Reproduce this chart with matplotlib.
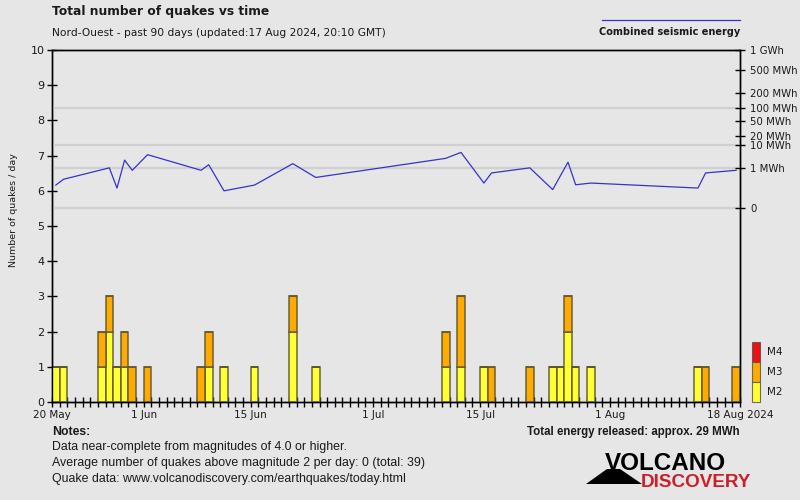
import numpy as np
import matplotlib
matplotlib.use('Agg')
import matplotlib.pyplot as plt
import matplotlib.dates as mdates
from matplotlib.patches import Rectangle, Polygon

# ---------------- data ----------------
start_date = '2024-05-20'
end_date = '2024-08-18'

quake_dates = ['2024-05-20', '2024-05-21', '2024-05-26', '2024-05-27', '2024-05-28',
               '2024-05-29', '2024-05-30', '2024-06-01', '2024-06-08', '2024-06-09',
               '2024-06-11', '2024-06-15', '2024-06-20', '2024-06-23', '2024-07-10',
               '2024-07-12', '2024-07-15', '2024-07-16', '2024-07-21', '2024-07-24',
               '2024-07-25', '2024-07-26', '2024-07-27', '2024-07-29', '2024-08-12',
               '2024-08-13', '2024-08-17']
m2_counts = [1, 1, 1, 2, 1, 1, 0, 0, 0, 1, 1, 1, 2, 1, 1, 1, 1, 0, 0, 1, 1, 2, 1, 1, 1, 0, 0]
m3_counts = [0, 0, 1, 1, 0, 1, 1, 1, 1, 1, 0, 0, 1, 0, 1, 2, 0, 1, 1, 0, 0, 1, 0, 0, 0, 1, 1]
m4_counts = [0] * 27

energy_dates = ['2024-05-20', '2024-05-21', '2024-05-27', '2024-05-28', '2024-05-29',
                '2024-05-30', '2024-06-01', '2024-06-08', '2024-06-09', '2024-06-11',
                '2024-06-15', '2024-06-20', '2024-06-23', '2024-07-10', '2024-07-12',
                '2024-07-15', '2024-07-16', '2024-07-21', '2024-07-24', '2024-07-26',
                '2024-07-27', '2024-07-29', '2024-08-12', '2024-08-13', '2024-08-17']
energy_mwh = [0.061, 0.19, 1.03, 0.030, 2.5, 0.75, 4.3, 0.75, 1.5, 0.014,
              0.061, 1.7, 0.26, 3.0, 5.3, 0.093, 0.52, 1.03, 0.020, 2.0,
              0.065, 0.093, 0.030, 0.52, 0.75]

count_ticks = list(range(0, 11))
energy_ticks = [0, 1, 10, 20, 50, 100, 200, 500, 1000]
energy_tick_labels = ['0', '1 MWh', '10 MWh', '20 MWh', '50 MWh', '100 MWh',
                      '200 MWh', '500 MWh', '1 GWh']
energy_grid = [0, 1, 10, 100]
date_ticks = ['2024-05-20', '2024-06-01', '2024-06-15', '2024-07-01',
              '2024-07-15', '2024-08-01', '2024-08-18']
date_tick_labels = ['20 May', '1 Jun', '15 Jun', '1 Jul', '15 Jul', '1 Aug', '18 Aug 2024']
legend_labels = ['M4', 'M3', 'M2']

# ---------------- style ----------------
BG = '#e6e6e6'
YELLOW = '#ffff33'
ORANGE = '#ffaa00'
RED = '#ee1111'
EDGE = (0.35, 0.32, 0.18, 0.75)
LINE = '#3333cc'
GRID = '#d0d0d0'
TXT = '#1a1a1a'
NARROW = ['Liberation Sans', 'DejaVu Sans']

W, H = 800, 500
fig = plt.figure(figsize=(8, 5), dpi=100, facecolor=BG)


def fx(x):
    return x / W


def fy(y):
    return 1 - y / H


ax = fig.add_axes([fx(52), fy(402), fx(740) - fx(52), fy(50) - fy(402)])
ax.set_facecolor(BG)


def to_num(ds):
    return mdates.date2num(np.array(ds, dtype='datetime64[D]'))


qx = to_num(quake_dates)
m2 = np.array(m2_counts)
m3 = np.array(m3_counts)
m4 = np.array(m4_counts)
bar_kw = dict(width=1.0, align='edge', edgecolor=EDGE, linewidth=1.3, zorder=3)
ax.bar(qx, m2, color=YELLOW, **bar_kw)
ax.bar(qx, m3, bottom=m2, color=ORANGE, **bar_kw)
ax.bar(qx, m4, bottom=m2 + m3, color=RED, **bar_kw)

ax.set_xlim(to_num([start_date])[0], to_num([end_date])[0])
ax.set_ylim(0, 10)
ax.set_yticks(count_ticks)
ax.set_xticks(to_num(date_ticks))
ax.set_xticklabels(date_tick_labels)
ax.xaxis.set_minor_locator(mdates.DayLocator())
ax.tick_params(axis='x', which='both', direction='inout', length=7, width=1,
               color='black', labelsize=7.5, labelcolor=TXT, pad=2)
ax.tick_params(axis='y', which='both', direction='inout', length=7, width=1,
               color='black', labelsize=8, labelcolor=TXT, pad=2)
for s in ax.spines.values():
    s.set_color('black')
    s.set_linewidth(1)

# ---------- energy axis (fifth-root scale) ----------
ax2 = ax.twinx()


def fwd(v):
    v = np.asarray(v, dtype=float)
    return np.sign(v) * np.abs(v) ** 0.2


def inv(t):
    t = np.asarray(t, dtype=float)
    return np.sign(t) * np.abs(t) ** 5


ax2.set_yscale('function', functions=(fwd, inv))
top_t = 1000 ** 0.2
zero_left = 5.52
bottom_t = -zero_left * top_t / (10 - zero_left)
ax2.set_ylim(-(abs(bottom_t) ** 5), 1000)
ax2.set_yticks(energy_ticks)
ax2.set_yticklabels(energy_tick_labels)
ax2.yaxis.set_minor_locator(matplotlib.ticker.NullLocator())
ax2.tick_params(axis='y', direction='inout', length=7, width=1, color='black',
                labelsize=7.3, labelcolor=TXT, pad=4)
for v in energy_grid:
    ax2.axhline(v, color=GRID, linewidth=1.6, zorder=0)
ex = to_num(energy_dates) + 0.5
ax2.plot(ex, energy_mwh, color=LINE, linewidth=0.9, zorder=4)
for s in ax2.spines.values():
    s.set_color('black')
    s.set_linewidth(1)

# ---------------- texts ----------------
fig.text(fx(52), fy(12), 'Total number of quakes vs time', fontsize=8.8,
         fontweight='bold', color=TXT, va='center', ha='left')
fig.text(fx(52), fy(33), 'Nord-Ouest - past 90 days (updated:17 Aug 2024, 20:10 GMT)',
         fontsize=7.65, color=TXT, va='center', ha='left')
fig.text(fx(14), fy(210), 'Number of quakes / day', rotation=90, fontsize=6.8,
         color=TXT, va='center', ha='center')

# energy legend
fig.add_artist(plt.Line2D([fx(602), fx(740)], [fy(20), fy(20)], color=LINE, linewidth=0.9))
fig.text(fx(740), fy(32), 'Combined seismic energy', fontsize=7.0, fontweight='bold',
         color=TXT, va='center', ha='right')

# magnitude legend
leg_colors = [RED, ORANGE, YELLOW]
for i, (lab, col) in enumerate(zip(legend_labels, leg_colors)):
    y0 = 342 + 20 * i
    fig.add_artist(Rectangle((fx(752), fy(y0 + 20)), fx(8), 20 / H, facecolor=col,
                             edgecolor=(0.3, 0.3, 0.3, 0.8), linewidth=0.8,
                             transform=fig.transFigure))
    fig.text(fx(767), fy(y0 + 10), lab, fontsize=7.5, color=TXT, va='center', ha='left')

# notes
fig.text(fx(52), fy(432), 'Notes:', fontsize=8.8, fontweight='bold', family=NARROW,
         color=TXT, va='center', ha='left')
notes = ['Data near-complete from magnitudes of 4.0 or higher.',
         'Average number of quakes above magnitude 2 per day: 0 (total: 39)',
         'Quake data: www.volcanodiscovery.com/earthquakes/today.html']
for i, line in enumerate(notes):
    fig.text(fx(52), fy(447 + 16 * i), line, fontsize=8.9, family=NARROW,
             color=TXT, va='center', ha='left')
fig.text(fx(740), fy(432), 'Total energy released: approx. 29 MWh', fontsize=8.3,
         fontweight='bold', family=NARROW, color=TXT, va='center', ha='right')

# logo
fig.add_artist(Polygon([(fx(586), fy(484)), (fx(607), fy(469)), (fx(620), fy(469)),
                        (fx(642), fy(484))], closed=True, facecolor='black',
                       edgecolor='none', transform=fig.transFigure))
fig.text(fx(605), fy(470), 'VOLCANO', fontsize=17.5, fontweight='bold', family=NARROW,
         color='black', va='baseline', ha='left')
fig.text(fx(641), fy(487), 'DISCOVERY', fontsize=13.6, fontweight='bold', family=NARROW,
         color='#cc1f2a', va='baseline', ha='left')

fig.savefig('out.png', dpi=100, facecolor=BG)
